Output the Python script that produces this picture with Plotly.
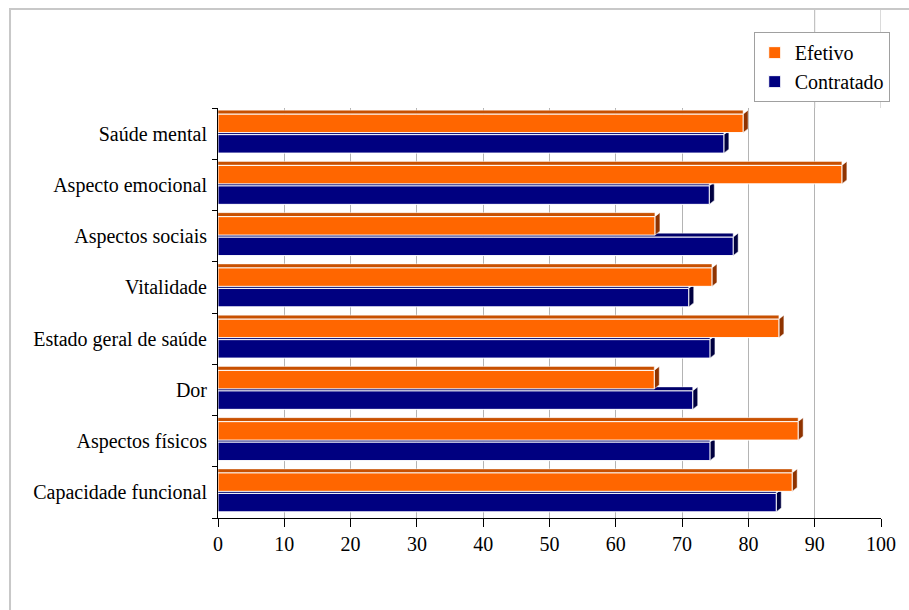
import plotly.graph_objects as go

# Domains of the quality-of-life scale, listed bottom to top
categories = [
    "Capacidade funcional",
    "Aspectos físicos",
    "Dor",
    "Estado geral de saúde",
    "Vitalidade",
    "Aspectos sociais",
    "Aspecto emocional",
    "Saúde mental",
]
efetivo = [86.6, 87.5, 65.8, 84.6, 74.5, 65.9, 94.1, 79.2]
contratado = [84.2, 74.2, 71.6, 74.2, 71.0, 77.7, 74.1, 76.3]
x_ticks = [0, 10, 20, 30, 40, 50, 60, 70, 80, 90, 100]

ORANGE = "#FF6600"
ORANGE_TOP = "#C85000"
ORANGE_SIDE = "#8F3300"
NAVY = "#000080"
NAVY_TOP = "#00006A"
NAVY_SIDE = "#000040"
FONT = "Liberation Serif"

fig = go.Figure()
fig.add_trace(go.Bar(
    y=categories, x=contratado, name="Contratado", orientation="h",
    marker=dict(color=NAVY, line=dict(color="white", width=1)),
))
fig.add_trace(go.Bar(
    y=categories, x=efetivo, name="Efetivo", orientation="h",
    marker=dict(color=ORANGE, line=dict(color="white", width=1)),
))

# Depth faces for the bars (pixel offsets from each category centre)
DX, DY = 5, 4
series_faces = [
    (contratado, -19.5, -1.0, NAVY_TOP, NAVY_SIDE),
    (efetivo, 1.0, 19.5, ORANGE_TOP, ORANGE_SIDE),
]
for values, lo, hi, top_col, side_col in series_faces:
    for cat, v in zip(categories, values):
        # top face
        fig.add_shape(type="rect", xref="x", yref="y", x0=0, x1=v,
                      ysizemode="pixel", yanchor=cat, y0=hi, y1=hi + DY,
                      fillcolor=top_col, line=dict(color="white", width=0.5),
                      layer="between")
        # side face
        fig.add_shape(type="path", xref="x", yref="y",
                      xsizemode="pixel", xanchor=v, ysizemode="pixel", yanchor=cat,
                      path=f"M0,{lo} L{DX},{lo + DY} L{DX},{hi + DY} L0,{hi} Z",
                      fillcolor=side_col, line=dict(color="white", width=0.5),
                      layer="between")

# Back-wall gridlines at 90 and 100 continue up to the chart frame
for v in (90, 100):
    fig.add_shape(type="line", xref="x", yref="paper", x0=v, x1=v, y0=1, y1=1.2415,
                  line=dict(color="#B4B4B4", width=1), layer="below")

# Chart frame
fig.add_shape(type="rect", xref="paper", yref="paper",
              x0=-0.3137, x1=1.05, y0=-0.235, y1=1.2415,
              line=dict(color="#C8C8C8", width=2), fillcolor="rgba(0,0,0,0)")

fig.update_layout(
    width=909, height=610,
    margin=dict(l=218, r=28, t=108, b=92),
    paper_bgcolor="white", plot_bgcolor="white",
    font=dict(family=FONT, size=20, color="black"),
    barmode="group", bargap=0.2, bargroupgap=0.1,
    showlegend=True,
    legend=dict(
        x=0.808, y=1.185, xanchor="left", yanchor="top",
        traceorder="reversed",
        bordercolor="#A0A0A0", borderwidth=1, bgcolor="white",
        font=dict(family=FONT, size=20),
        itemwidth=30, tracegroupgap=4,
    ),
    xaxis=dict(
        range=[0, 100], tickvals=x_ticks,
        showgrid=True, gridcolor="#B4B4B4", gridwidth=1,
        showline=True, linecolor="black", linewidth=1,
        ticks="outside", ticklen=8, tickcolor="black",
        zeroline=False, fixedrange=True,
        tickfont=dict(family=FONT, size=20),
    ),
    yaxis=dict(
        categoryorder="array", categoryarray=categories,
        showline=True, linecolor="black", linewidth=1,
        ticks="outside", ticklen=5, tickcolor="black", tickson="boundaries",
        ticklabelstandoff=6,
        showgrid=False, fixedrange=True,
        tickfont=dict(family=FONT, size=20),
    ),
)

fig.write_html("out.html")
